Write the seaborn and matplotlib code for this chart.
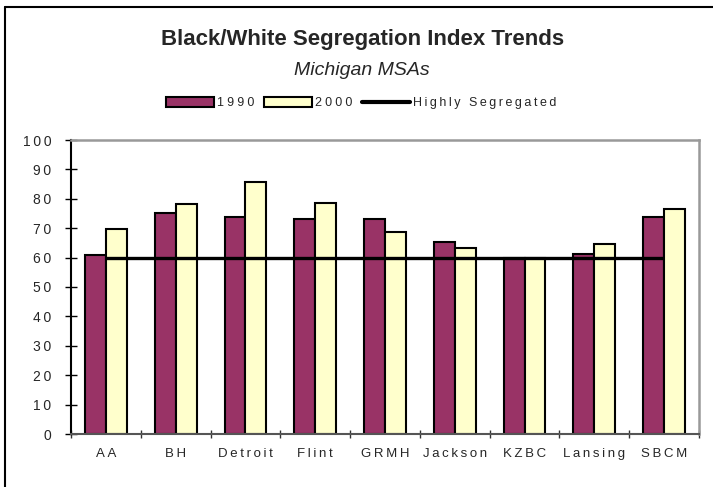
import numpy as np
import pandas as pd
import matplotlib
matplotlib.use("Agg")
import matplotlib.pyplot as plt
from matplotlib.patches import Patch
from matplotlib.lines import Line2D
from matplotlib.ticker import FuncFormatter, FixedLocator
import seaborn as sns

categories = ["AA", "BH", "Detroit", "Flint", "GRMH", "Jackson", "KZBC", "Lansing", "SBCM"]
seg_1990 = [61.0, 75.3, 73.8, 73.1, 73.0, 65.4, 60.0, 61.2, 73.9]
seg_2000 = [69.6, 78.1, 85.8, 78.7, 68.8, 63.2, 60.0, 64.5, 76.7]
highly_segregated = [60, 60, 60, 60, 60, 60, 60, 60, 60]
years = ["1990", "2000"]
y_ticks = [0, 10, 20, 30, 40, 50, 60, 70, 80, 90, 100]

col_1990 = "#993366"
col_2000 = "#FFFFCC"

sns.set_style("white")
plt.rcParams['font.family'] = ['Liberation Sans', 'DejaVu Sans']

THIN = "\u2009"
def spaced(s, sp=THIN):
    return sp.join(list(s))

df = pd.DataFrame({
    "msa": categories * 2,
    "year": [years[0]] * len(categories) + [years[1]] * len(categories),
    "value": seg_1990 + seg_2000,
})

fig = plt.figure(figsize=(7.13, 4.87), dpi=100)
ax = fig.add_axes([71 / 713, 1 - 434 / 487, 628 / 713, 294 / 487])

sns.barplot(data=df, x="msa", y="value", hue="year", order=categories,
            hue_order=years, palette=[col_1990, col_2000], width=0.6,
            edgecolor="black", linewidth=1.5, saturation=1, ax=ax,
            legend=False, zorder=2)

xpos = np.arange(len(categories))
ax.plot(xpos, highly_segregated, color="black", lw=2.4, zorder=3,
        solid_capstyle="butt")

ax.set_xlim(-0.5, len(categories) - 0.5)
ax.set_ylim(0, 100)
ax.set_xlabel("")
ax.set_ylabel("")

# spines
ax.spines["left"].set_color("black")
ax.spines["left"].set_linewidth(1.5)
ax.spines["bottom"].set_color("#555555")
ax.spines["bottom"].set_linewidth(1.5)
for s in ["top", "right"]:
    ax.spines[s].set_visible(True)
    ax.spines[s].set_color("#999999")
    ax.spines[s].set_linewidth(1.8)

# y ticks
ax.set_yticks(y_ticks)
ax.yaxis.set_major_formatter(FuncFormatter(lambda v, p: spaced(f"{v:.0f}")))
ax.tick_params(axis="y", direction="inout", length=8.6, width=1.0,
               color="black", labelsize=10, pad=10.0, left=True)

# x ticks: labels at centres, tick marks at boundaries
ax.set_xticks(xpos)
ax.set_xticklabels([spaced(c) for c in categories])
ax.xaxis.set_minor_locator(FixedLocator(np.arange(-0.5, len(categories), 1.0)))
ax.tick_params(axis="x", which="major", length=0, labelsize=9.5, pad=10)
ax.tick_params(axis="x", which="minor", direction="inout", length=5.8,
               width=1.0, color="#333333", bottom=True)
ax.grid(False)

# titles
fig.text(0.508, 1 - 45 / 487, "Black/White Segregation Index Trends",
         ha="center", va="baseline", fontsize=16, fontweight="bold")
fig.text(0.507, 1 - 75 / 487, "Michigan MSAs", ha="center", va="baseline",
         fontsize=14, fontstyle="italic")

# legend
handles = [
    Patch(facecolor=col_1990, edgecolor="black", linewidth=1.5),
    Patch(facecolor=col_2000, edgecolor="black", linewidth=1.5),
    Line2D([0], [0], color="black", lw=3),
]
labels = [spaced(years[0], "\u2005"), spaced(years[1], "\u2005"), spaced("Highly Segregated")]
fig.legend(handles, labels, loc="center", bbox_to_anchor=(0.507, 1 - 103 / 487),
           ncol=3, frameon=False, fontsize=9, handlelength=3.8,
           handleheight=0.8, handletextpad=0.25, columnspacing=0.8,
           borderpad=0, borderaxespad=0)

# outer chart frame (top and left edges)
fig.add_artist(Line2D([5 / 713, 1.0], [1 - 7 / 487, 1 - 7 / 487],
                      transform=fig.transFigure, color="black", lw=1.5))
fig.add_artist(Line2D([5 / 713, 5 / 713], [0, 1 - 7 / 487],
                      transform=fig.transFigure, color="black", lw=1.5))

fig.savefig("out.png", dpi=100)
